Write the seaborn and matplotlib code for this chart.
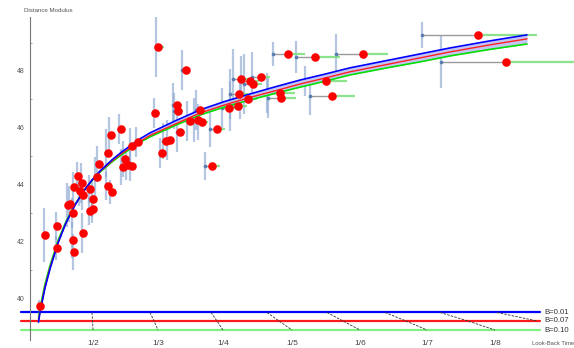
import numpy as np
import pandas as pd
import matplotlib
matplotlib.use("Agg")
import matplotlib.pyplot as plt
import seaborn as sns

# ---- supernova sample: look-back time for B=0.01 / 0.07 / 0.10, distance modulus, error
t_b01 = [0.136, 0.212, 0.394, 0.394, 0.561, 0.591, 0.636, 0.636, 0.652, 0.652,
         0.712, 0.773, 0.742, 0.788, 0.788, 0.894, 0.939, 0.894, 0.939, 0.985,
         1.015, 1.152, 1.152, 1.212, 1.197, 1.348, 1.409, 1.379, 1.455, 1.515,
         1.515, 1.606, 1.909, 2.303, 1.879, 2.167, 2.182, 1.970, 2.015, 2.076,
         2.227, 2.379, 2.485, 2.545, 2.515, 2.727, 2.652, 2.909, 3.030, 3.030,
         3.182, 3.076, 3.197, 3.242, 3.364, 3.591, 3.606, 3.682, 4.030, 4.167,
         4.242, 4.636, 5.939, 6.227]
t_b07 = [0.152, 0.227, 0.409, 0.409, 0.576, 0.606, 0.652, 0.652, 0.667, 0.667,
         0.727, 0.788, 0.758, 0.803, 0.803, 0.909, 0.955, 0.909, 0.955, 1.015,
         1.045, 1.182, 1.182, 1.242, 1.227, 1.379, 1.439, 1.409, 1.485, 1.545,
         1.545, 1.636, 1.939, 2.364, 1.894, 2.227, 2.242, 2.000, 2.061, 2.121,
         2.273, 2.424, 2.545, 2.606, 2.576, 2.833, 2.758, 3.015, 3.152, 3.167,
         3.303, 3.197, 3.333, 3.379, 3.500, 3.788, 3.803, 3.909, 4.318, 4.485,
         4.576, 5.045, 6.788, 7.212]
t_b10 = [0.182, 0.258, 0.439, 0.439, 0.606, 0.636, 0.682, 0.682, 0.697, 0.697,
         0.758, 0.818, 0.788, 0.833, 0.833, 0.939, 0.985, 0.939, 0.985, 1.045,
         1.076, 1.227, 1.227, 1.288, 1.273, 1.424, 1.485, 1.455, 1.530, 1.591,
         1.591, 1.682, 2.030, 2.424, 1.970, 2.303, 2.318, 2.076, 2.121, 2.182,
         2.348, 2.500, 2.621, 2.697, 2.652, 2.955, 2.879, 3.136, 3.288, 3.303,
         3.439, 3.333, 3.470, 3.515, 3.636, 4.015, 4.030, 4.167, 4.697, 4.803,
         4.924, 5.424, 7.682, 8.333]
dist_mod = [39.73, 42.23, 41.77, 42.54, 43.28, 43.32, 43.00, 42.05, 41.63, 43.92,
            44.30, 44.06, 43.77, 43.63, 42.30, 43.85, 43.49, 43.07, 43.14, 44.27,
            44.73, 45.11, 43.95, 43.74, 45.75, 45.96, 44.90, 44.62, 44.69, 44.65,
            45.36, 45.50, 48.85, 48.04, 46.52, 46.80, 46.59, 45.11, 45.54, 45.57,
            45.85, 46.24, 46.27, 46.20, 46.63, 45.96, 44.65, 46.70, 46.77, 47.19,
            47.01, 47.72, 47.65, 47.54, 47.79, 47.23, 47.05, 48.60, 48.49, 47.65,
            47.12, 48.60, 49.27, 48.32]
dist_err = [0.20, 0.95, 0.42, 0.49, 0.77, 0.63, 0.53, 0.63, 0.63, 0.53,
            0.49, 0.70, 0.53, 0.53, 0.70, 0.49, 0.63, 0.49, 0.49, 0.70,
            0.63, 0.85, 0.49, 0.42, 0.63, 0.53, 0.63, 0.63, 0.53, 0.53,
            0.63, 0.53, 1.06, 0.70, 0.53, 0.77, 0.63, 0.53, 0.63, 0.70,
            0.70, 0.70, 0.77, 0.63, 0.70, 0.63, 0.49, 0.70, 0.88, 0.88,
            0.70, 1.06, 0.88, 1.06, 0.88, 0.70, 0.70, 0.42, 0.56, 0.53,
            0.67, 0.70, 0.46, 0.92]

# ---- model curves mu(t) for the three B values
curve_t = [0.129, 0.152, 0.227, 0.303, 0.424, 0.545, 0.682, 0.803, 0.939, 1.061,
           1.242, 1.379, 1.515, 1.667, 1.818, 2.197, 2.576, 2.955, 3.333, 3.712,
           4.091, 4.470, 4.848, 5.455, 5.909, 6.364, 6.970, 7.530]
curve_b01 = [39.16, 39.51, 40.36, 41.03, 41.94, 42.65, 43.28, 43.74, 44.16, 44.48,
             44.87, 45.13, 45.36, 45.61, 45.82, 46.24, 46.63, 46.93, 47.19, 47.44,
             47.68, 47.89, 48.11, 48.39, 48.60, 48.81, 49.06, 49.27]
curve_b07 = [39.23, 39.55, 40.40, 41.07, 41.96, 42.65, 43.28, 43.74, 44.16, 44.46,
             44.83, 45.08, 45.29, 45.52, 45.73, 46.13, 46.52, 46.81, 47.07, 47.30,
             47.54, 47.75, 47.97, 48.25, 48.46, 48.67, 48.92, 49.13]
curve_b10 = [39.30, 39.65, 40.50, 41.15, 42.03, 42.70, 43.30, 43.74, 44.14, 44.44,
             44.80, 45.04, 45.25, 45.49, 45.68, 46.08, 46.45, 46.74, 46.98, 47.21,
             47.43, 47.64, 47.86, 48.13, 48.32, 48.53, 48.76, 48.95]

# ---- scale-factor nomogram: look-back time of a = 1/2 ... 1/9 for each B
scale_labels = ["1/2", "1/3", "1/4", "1/5", "1/6", "1/7", "1/8", ""]
tick_b01 = [0.939, 1.818, 2.742, 3.591, 4.500, 5.379, 6.212, 7.076]
tick_b07 = [0.947, 1.879, 2.833, 3.773, 4.742, 5.697, 6.636, 7.682]
tick_b10 = [0.955, 1.939, 2.924, 3.970, 5.000, 6.015, 7.045, np.nan]
b_names = ["B=0.01", "B=0.07", "B=0.10"]
b_levels = [39.50, 39.20, 38.88]
b_colors = ["#0000ff", "#ff1a1a", "#80f080"]

sns.set_style("white")
plt.rcParams["font.family"] = ["Liberation Sans", "DejaVu Sans"]

fig = plt.figure(figsize=(5.74, 3.48), dpi=100)
ax = fig.add_axes([30 / 574, 8 / 348, 544 / 574, 323 / 348])
ax.set_xlim(0, 544 / 66)
ax.set_ylim(38.53, 49.90)

pts = pd.DataFrame({"t01": t_b01, "t07": t_b07, "t10": t_b10,
                    "mu": dist_mod, "err": dist_err})

# vertical error bars at the B=0.01 position
ax.vlines(pts["t01"], pts["mu"] - pts["err"], pts["mu"] + pts["err"],
          color="#8ea8d2", alpha=0.65, lw=1.6, zorder=1)
# shift of each object from B=0.01 to B=0.07 (grey) and on to B=0.10 (green)
ax.hlines(pts["mu"], pts["t01"], pts["t07"], color="#9a9a9a", lw=1.0, zorder=1.5)
ax.hlines(pts["mu"], pts["t07"], pts["t10"], color="#7fe07f", lw=1.6, alpha=0.9, zorder=1.6)
sns.scatterplot(data=pts, x="t01", y="mu", ax=ax, color="#5a7db0", s=7,
                linewidth=0, zorder=2, legend=False)

# model band and curves
ax.fill_between(curve_t, curve_b10, curve_b01, color="#c4c4f4", lw=0, zorder=3)
for mu_vals, col, lw in [(curve_b10, "#00e000", 1.2), (curve_b07, "#ff2020", 1.0),
                         (curve_b01, "#0000ff", 1.2)]:
    sns.lineplot(x=curve_t, y=mu_vals, ax=ax, color=col, lw=lw, sort=False,
                 estimator=None, zorder=3.5)

sns.scatterplot(data=pts, x="t07", y="mu", ax=ax, color="#ff0000", s=38,
                linewidth=0, zorder=4, legend=False)

# nomogram rails
for name, lev, col in zip(b_names, b_levels, b_colors):
    ax.plot([-0.136, 7.727], [lev, lev], color=col, lw=1.6, clip_on=False, zorder=2)
    ax.text(7.80, lev, name, fontsize=5.6, color="#333333", va="center", ha="left")

for lab, x1, x2, x3 in zip(scale_labels, tick_b01, tick_b07, tick_b10):
    xs = [x1, x2] if np.isnan(x3) else [x1, x2, x3]
    ys = b_levels[:len(xs)]
    ax.plot(xs, ys, color="#333333", lw=0.6, ls=(0, (3, 1.5)), zorder=2.5)
    if lab:
        ax.text(x3, 38.42, lab, fontsize=6, color="#444444", ha="center", va="center")

ax.text(7.92, 38.42, "Look-Back Time", fontsize=4.2, color="#555555",
        ha="center", va="center")
fig.text(24 / 574, 1 - 10 / 348, "Distance Modulus", fontsize=4.4, color="#555555",
         ha="left", va="center")

for side in ["top", "right", "bottom"]:
    ax.spines[side].set_visible(False)
ax.spines["left"].set_color("#777777")
ax.spines["left"].set_linewidth(0.8)
ax.set_xticks([])
ax.set_yticks([40, 42, 44, 46, 48])
ax.set_yticks([41, 43, 45, 47, 49], minor=True)
ax.tick_params(axis="y", which="major", direction="in", length=3, width=0.6,
               color="#777777", labelsize=5, labelcolor="#555555", pad=4)
ax.tick_params(axis="y", which="minor", direction="in", length=1.5, width=0.5,
               color="#777777", left=True)
ax.set_xlabel("")
ax.set_ylabel("")

fig.savefig("out.png", dpi=100)
